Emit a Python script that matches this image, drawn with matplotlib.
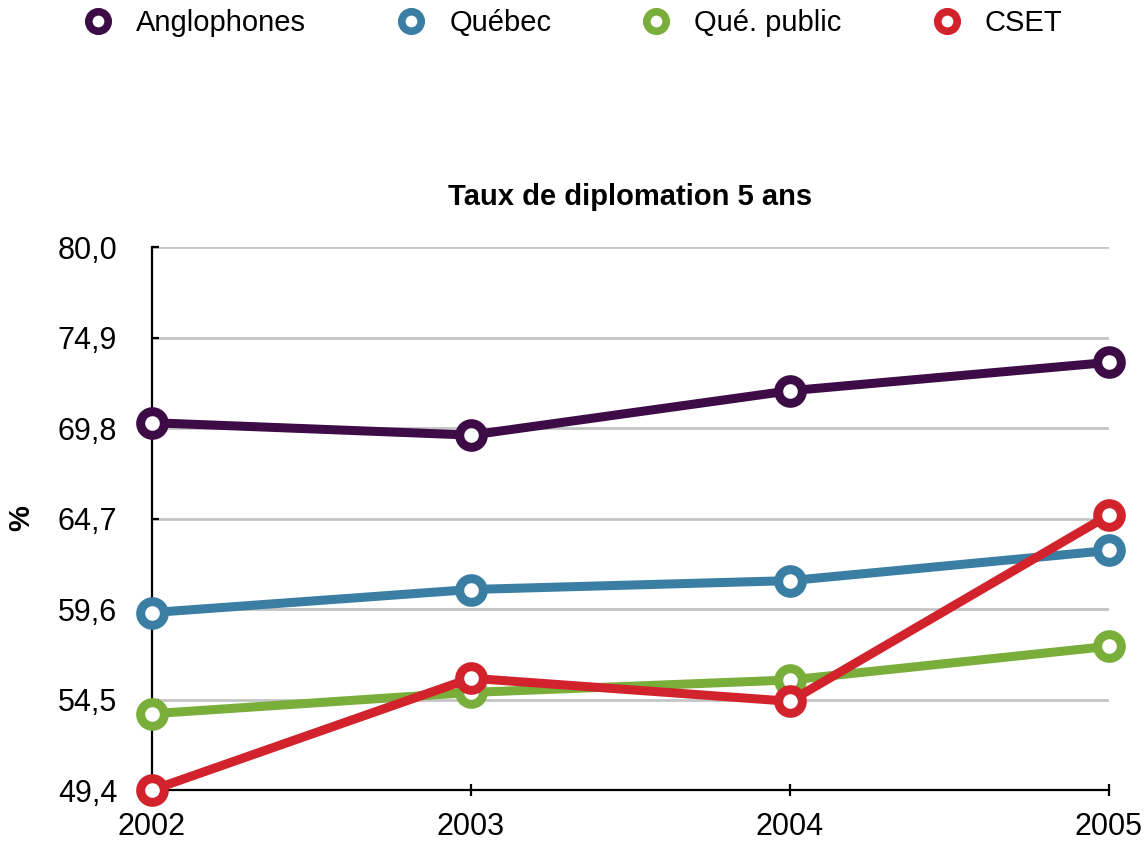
"""Taux de diplomation 5 ans, line chart with hollow markers."""

import matplotlib
matplotlib.use("Agg")
import matplotlib.pyplot as plt
from matplotlib.lines import Line2D

plt.rcParams["font.family"] = ["Liberation Sans", "DejaVu Sans"]

# Data
years = [2002, 2003, 2004, 2005]
anglophones = [70.1, 69.4, 71.9, 73.5]
quebec = [59.4, 60.7, 61.2, 62.9]
que_public = [53.7, 54.9, 55.6, 57.5]
cset = [49.4, 55.7, 54.4, 64.9]

series_names = ["Anglophones", "Québec", "Qué. public", "CSET"]
series_values = [anglophones, quebec, que_public, cset]
colors = ["#3d0c47", "#3a7fa3", "#7aae3b", "#d2232d"]

y_ticks = [49.4, 54.5, 59.6, 64.7, 69.8, 74.9, 80.0]

fig = plt.figure(figsize=(11.46, 8.41), dpi=100)
ax = fig.add_axes([0.1326, 0.0606, 0.8351, 0.6457])

for values, color in zip(series_values, colors):
    ax.plot(years, values, color=color, linewidth=6.5, marker="o",
            markersize=17, markeredgewidth=6.5, markerfacecolor="white",
            markeredgecolor=color, clip_on=False, zorder=3)

ax.set_xlim(2002, 2005)
ax.set_ylim(49.4, 80.0)
ax.set_xticks(years)
ax.set_xticklabels([str(y) for y in years])
ax.set_yticks(y_ticks)
ax.set_yticklabels([f"{v:.1f}".replace(".", ",") for v in y_ticks])

ax.grid(axis="y", color="#c4c4c4", linewidth=2)
ax.set_axisbelow(True)
for side in ["top", "right"]:
    ax.spines[side].set_visible(False)
for side in ["left", "bottom"]:
    ax.spines[side].set_linewidth(1.6)
    ax.spines[side].set_color("black")

ax.tick_params(axis="y", direction="in", length=5, width=1.6, pad=25,
               labelsize=22)
ax.tick_params(axis="x", direction="inout", length=9, width=1.6, pad=11,
               labelsize=22)

ax.set_title("Taux de diplomation 5 ans", fontsize=21, fontweight="bold",
             pad=30)
ax.set_ylabel("%", fontsize=21, fontweight="bold", labelpad=16)

handles = [Line2D([], [], linestyle="none", marker="o", markersize=14,
                  markeredgewidth=5.5, markerfacecolor="white",
                  markeredgecolor=c) for c in colors]
fig.legend(handles, series_names, loc="upper center",
           bbox_to_anchor=(0.5, 1.02), ncol=4, frameon=False, fontsize=21,
           handlelength=1.0, handletextpad=0.8, columnspacing=3.1)

fig.savefig("out.png", dpi=100)
